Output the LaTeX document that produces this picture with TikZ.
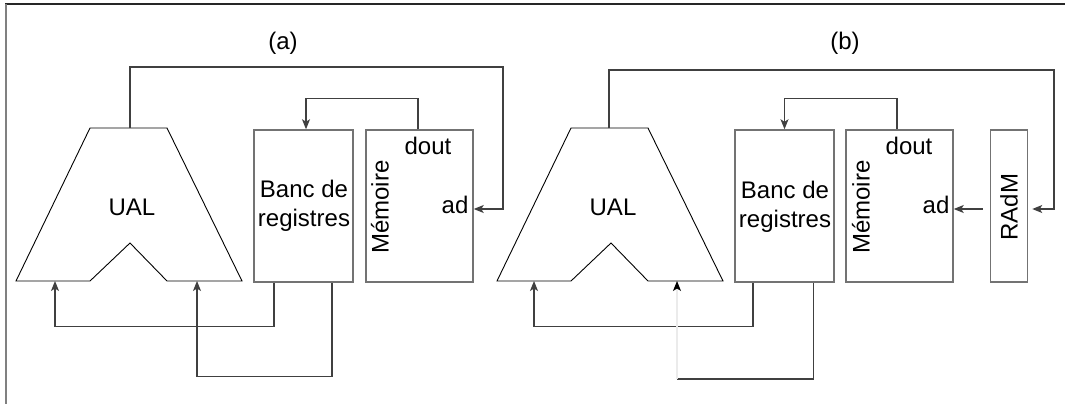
\documentclass[tikz,border=0pt]{standalone}
\usepackage{fontspec}
\setmainfont{Liberation Sans}
\usetikzlibrary{arrows.meta}

\begin{document}
\begin{tikzpicture}[x=1pt, y=-1pt,
    every node/.style={font=\fontsize{24}{29}\selectfont},
    bloc/.style={draw=black!55, line width=1.5pt, minimum height=152pt, inner sep=0pt},
    ligne/.style={draw=black!75, line width=1.1pt},
    fleche/.style={ligne, -{Stealth[length=10pt, width=8pt, inset=2.5pt]}},
    ual/.style={draw=black, line width=0.9pt}]
    \useasboundingbox (0,0) rectangle (1065,404);
    \draw [black!85, line width=2pt] (5,4.5) -- (1065,4.5);
    \draw [black!50, line width=2pt] (5.5,4) -- (5.5,404);
    % (a)
    \node (titrea) at (283,43) {(a)};
    \draw [ual] (16,281) -- (90,128) -- (167,128) -- (242,281) -- (167,281)
        -- (130,243) -- (90,281) -- cycle;
    \node (uala) at (132,207) {UAL};
    \coordinate (ualsa) at (130,128);
    \coordinate (ualea) at (55,281);
    \coordinate (ualfa) at (197,281);
    \node [bloc, minimum width=99pt] (banca) at (303.5,206) {};
    \node [align=center] (textbanca) at (304,206) {Banc de\\registres};
    \node [bloc, minimum width=107pt] (mema) at (419.5,206) {};
    \node [rotate=90] (textmema) at (380,207) {Mémoire};
    \node (douta) at (428,146) {dout};
    \node (ada) at (455,205) {ad};
    \coordinate (coina) at (503,67);
    \draw [fleche] (ualsa) |- (coina) |- ([yshift=-3pt]mema.east);
    \draw [fleche] ([xshift=-1.5pt]mema.north) -- ++(0,-31) -| ([xshift=2.5pt]banca.north);
    \draw [fleche] ([xshift=-29.5pt]banca.south) -- ++(0,44) -| (ualea);
    \draw [fleche] ([xshift=28.5pt]banca.south) -- ++(0,94) -| (ualfa);
    % (b)
    \node (titreb) at (845,43) {(b)};
    \draw [ual] (497,281) -- (571,128) -- (648,128) -- (723,281) -- (648,281)
        -- (611,243) -- (571,281) -- cycle;
    \node (ualb) at (613,207) {UAL};
    \coordinate (ualsb) at (609,128);
    \coordinate (ualeb) at (534,281);
    \coordinate (ualfb) at (677,281);
    \node [bloc, minimum width=99pt] (bancb) at (784.5,206) {};
    \node [align=center] (textbancb) at (785,207) {Banc de\\registres};
    \node [bloc, minimum width=107pt] (memb) at (899.5,206) {};
    \node [rotate=90] (textmemb) at (861,207) {Mémoire};
    \node (doutb) at (909,146) {dout};
    \node (adb) at (936,205) {ad};
    \node [bloc, minimum width=37pt] (radmb) at (1009,206) {};
    \node [rotate=90] (textradmb) at (1009,207) {RAdM};
    \coordinate (coinb) at (1054,70);
    \draw [fleche, shorten >=4pt] (ualsb) |- (coinb) |- ([yshift=-3pt]radmb.east);
    \draw [fleche, shorten <=7pt] ([yshift=-3pt]radmb.west) -- ([yshift=-3pt]memb.east);
    \draw [fleche] ([xshift=-2.5pt]memb.north) -- ++(0,-31) -| ([xshift=0pt]bancb.north);
    \draw [fleche] ([xshift=-31.5pt]bancb.south) -- ++(0,44) -| (ualeb);
    \coordinate (coudeb) at (677,379);
    \draw [ligne] ([xshift=29pt]bancb.south) |- (coudeb);
    \draw [ligne, draw=black!8, -{Stealth[length=10pt, width=8pt, inset=2.5pt, color=black]}] (coudeb) -- (ualfb);
\end{tikzpicture}
\end{document}
